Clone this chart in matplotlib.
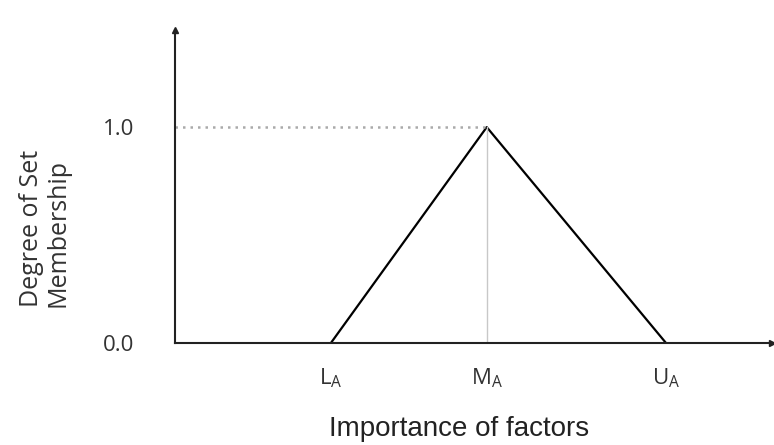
import matplotlib.pyplot as plt

# triangular fuzzy number
tri_x = [1.0, 2.0, 3.15]
tri_y = [0.0, 1.0, 0.0]
x_ticks = [1.0, 2.0, 3.15]
x_labels = [r'L$_\mathregular{A}$', r'M$_\mathregular{A}$', r'U$_\mathregular{A}$']
y_ticks = [0.0, 1.0]
y_labels = ['0.0', '1.0']

fig = plt.figure(figsize=(7.74, 4.45), dpi=100)
ax = fig.add_axes([175/774, 102/445, 597/774, 313/445])

xmax = 3.83
ymax = 1.45

ax.plot(tri_x, tri_y, color='black', lw=1.6)
# guide lines to the peak
ax.plot([0, tri_x[1]], [1.0, 1.0], color='#aaaaaa', lw=1.8, ls=(0, (1, 2)))
ax.plot([tri_x[1], tri_x[1]], [0, 1.0], color='#c8c8c8', lw=1.0)

ax.set_xlim(0, xmax)
ax.set_ylim(0, ymax)

for s in ['top', 'right']:
    ax.spines[s].set_visible(False)
for s in ['left', 'bottom']:
    ax.spines[s].set_linewidth(1.5)
    ax.spines[s].set_color('#222222')

# arrow heads
ax.plot([xmax], [0], marker='>', ms=5, color='#222222', clip_on=False)
ax.plot([0], [ymax], marker='^', ms=5, color='#222222', clip_on=False)

ax.set_xticks(x_ticks)
ax.set_xticklabels(x_labels, fontsize=16, family='Open Sans', color='#333333')
ax.set_yticks(y_ticks)
ax.set_yticklabels(y_labels, fontsize=16, family='Open Sans', color='#333333')
ax.tick_params(length=0)
ax.tick_params(axis='x', pad=17)
ax.tick_params(axis='y', pad=29)

fig.text(459/774, 1 - 436/445, 'Importance of factors', ha='center', va='baseline',
         fontsize=20, family='Liberation Sans', color='#222222')
fig.text(45/774, 1 - 228/445, 'Degree of Set\nMembership', rotation=90,
         ha='center', va='center', multialignment='left', fontsize=18,
         family='Open Sans', color='#333333', linespacing=1.1)

fig.savefig('out.png', dpi=100)
